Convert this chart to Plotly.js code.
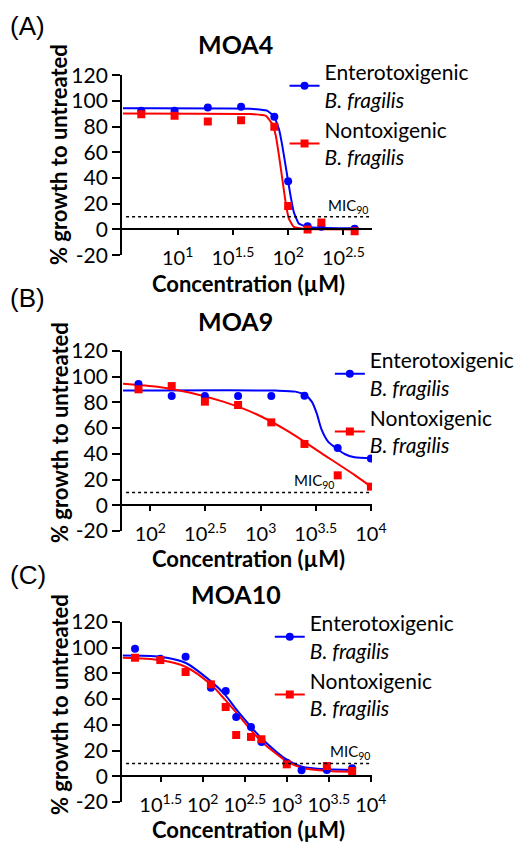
<!DOCTYPE html>
<html>
<head>
<meta charset="utf-8">
<script src="https://cdn.plot.ly/plotly-3.0.1.min.js"></script>
<style>html,body{margin:0;padding:0;background:#fff;}#chart{width:519px;height:844px;}</style>
</head>
<body>
<div id="chart"></div>
<script>
// ---------- DATA ----------
// Panel A: MOA4
const concA = [4.6875, 9.375, 18.75, 37.5, 75, 100, 150, 200, 400];
const etbfA = [92.3, 92.3, 94.8, 95.4, 87.6, 37.6, 2.6, 2.1, 0.5];
const ntbfA = [89.7, 88.4, 84.0, 85.0, 80.0, 18.3, 0.0, 5.4, -1.3];
const fitConcEtbfA = [3.2, 46, 65, 74.6, 82.6, 88.5, 94.8, 100, 105, 112.5, 124.5, 148, 215, 400];
const fitEtbfA = [94.3, 94.0, 92.3, 87.9, 78.1, 65.2, 49.7, 37.6, 26.5, 13.6, 4.6, 2.0, 1.2, 1.0];
const fitConcNtbfA = [3.2, 46, 63, 72.1, 77.3, 82.6, 88.5, 94.8, 101.4, 112.5, 138, 215, 400];
const fitNtbfA = [90.2, 89.8, 88.4, 82.0, 72.9, 57.5, 39.4, 21.3, 8.5, 2.0, 0.4, 0.1, 0.0];

// Panel B: MOA9
const concB = [78.125, 156.25, 312.5, 625, 1250, 2500, 5000, 10000];
const etbfB = [94.3, 85.0, 85.0, 85.0, 85.0, 85.2, 44.6, 36.3];
const ntbfB = [90.2, 92.7, 80.6, 78.0, 64.5, 47.7, 23.3, 14.5];
const fitConcEtbfB = [56.6, 1371, 2065, 2535, 2911, 3228, 3581, 4093, 4870, 5781, 7096, 10000];
const fitEtbfB = [89.2, 89.2, 88.4, 85.8, 80.6, 71.5, 58.6, 49.5, 44.3, 39.9, 37.3, 36.5];
const fitConcNtbfB = [56.6, 116.4, 230.7, 458, 908, 1799, 3581, 7096, 10000];
const fitNtbfB = [94.6, 92.2, 87.6, 80.6, 71.0, 57.3, 40.4, 23.6, 14.5];

// Panel C: MOA10
const concEtbfC = [15.625, 31.25, 62.5, 125, 187.5, 250, 375, 500, 1000, 1500, 3000, 6000];
const etbfC = [99.2, 91.5, 93.0, 68.9, 66.3, 46.1, 38.3, 26.7, 10.6, 4.7, 4.9, 6.2];
const concNtbfC = [15.625, 31.25, 62.5, 125, 187.5, 250, 375, 500, 1000, 3000, 6000];
const ntbfC = [92.2, 90.4, 81.1, 71.5, 53.9, 32.1, 30.6, 28.8, 9.3, 8.0, 4.1];
const fitConcC = [11.2, 31.1, 62.1, 124.2, 182.8, 250.6, 369, 492, 1012, 1517, 3112, 6012];
const fitEtbfC = [94.0, 93.0, 88.3, 74.0, 63.7, 52.0, 39.0, 30.0, 12.7, 7.5, 5.4, 4.9];
const fitNtbfC = [92.2, 90.4, 85.2, 71.5, 59.8, 49.5, 36.5, 27.5, 11.4, 6.7, 4.1, 3.6];

// MIC90 threshold
const mic90 = 10;

// Tick labels
const yTickVals = [-20, 0, 20, 40, 60, 80, 100, 120];
const yTickText = ['-20', '0', '20', '40', '60', '80', '100', '120'];
const xTickValsA = [10, 31.623, 100, 316.23];
const xTickTextA = ['10<sup>1</sup>', '10<sup>1.5</sup>', '10<sup>2</sup>', '10<sup>2.5</sup>'];
const xTickValsB = [100, 316.23, 1000, 3162.3, 10000];
const xTickTextB = ['10<sup>2</sup>', '10<sup>2.5</sup>', '10<sup>3</sup>', '10<sup>3.5</sup>', '10<sup>4</sup>'];
const xTickValsC = [31.623, 100, 316.23, 1000, 3162.3, 10000];
const xTickTextC = ['10<sup>1.5</sup>', '10<sup>2</sup>', '10<sup>2.5</sup>', '10<sup>3</sup>', '10<sup>3.5</sup>', '10<sup>4</sup>'];

const titles = ['MOA4', 'MOA9', 'MOA10'];
const panelLabels = ['(A)', '(B)', '(C)'];
const seriesNames = ['Enterotoxigenic<br><i>B. fragilis</i>', 'Nontoxigenic<br><i>B. fragilis</i>'];
const xTitle = 'Concentration (µM)';
const yTitle = '% growth to untreated';

// ---------- STYLE / LAYOUT ----------
const BLUE = '#0000FF', RED = '#FF0000';
const FONT = 'Lato, "Open Sans", sans-serif';
const H = 844, W = 519;
const yRange = [-20, 120];
function py(px) { return 1 - px / H; }
const xDom = [124 / W, 377.7 / W];
const panels = [
  {top: 75.2, bot: 255.2, xr: [0.497, 2.758], tv: xTickValsA, tt: xTickTextA, leg: {x: 289, y: 52}, micX: 0.993, sm: 0.3},
  {top: 351, bot: 531, xr: [1.744, 4.009], tv: xTickValsB, tt: xTickTextB, leg: {x: 335, y: 340}, micX: 0.858, sm: 0.7},
  {top: 622, bot: 802, xr: [1.04, 4.013], tv: xTickValsC, tt: xTickTextC, leg: {x: 274, y: 603}, micX: 1.0, sm: 0.8}
];
const titleY = [44, 321, 594];
const panelLabelY = [26, 298, 575];
const xTitleY = [283, 558, 829];
const yTitleY = [155, 433, 705];

const data = [];
const sets = [
  [concA, etbfA, concA, ntbfA, fitConcEtbfA, fitEtbfA, fitConcNtbfA, fitNtbfA],
  [concB, etbfB, concB, ntbfB, fitConcEtbfB, fitEtbfB, fitConcNtbfB, fitNtbfB],
  [concEtbfC, etbfC, concNtbfC, ntbfC, fitConcC, fitEtbfC, fitConcC, fitNtbfC]
];
sets.forEach((s, i) => {
  const xa = i === 0 ? 'x' : 'x' + (i + 1);
  const ya = i === 0 ? 'y' : 'y' + (i + 1);
  const lg = i === 0 ? 'legend' : 'legend' + (i + 1);
  const sm = panels[i].sm;
  data.push({x: s[4], y: s[5], xaxis: xa, yaxis: ya, mode: 'lines', line: {color: BLUE, width: 2, shape: 'spline', smoothing: sm}, showlegend: false, hoverinfo: 'skip'});
  data.push({x: s[6], y: s[7], xaxis: xa, yaxis: ya, mode: 'lines', line: {color: RED, width: 2, shape: 'spline', smoothing: sm}, showlegend: false, hoverinfo: 'skip'});
  data.push({x: s[0], y: s[1], xaxis: xa, yaxis: ya, mode: 'markers', marker: {color: BLUE, size: 8, symbol: 'circle'}, showlegend: false});
  data.push({x: s[2], y: s[3], xaxis: xa, yaxis: ya, mode: 'markers', marker: {color: RED, size: 8, symbol: 'square'}, showlegend: false});
  data.push({x: [null], y: [null], xaxis: xa, yaxis: ya, mode: 'lines+markers', name: seriesNames[0], legend: lg, line: {color: BLUE, width: 2}, marker: {color: BLUE, size: 8, symbol: 'circle'}});
  data.push({x: [null], y: [null], xaxis: xa, yaxis: ya, mode: 'lines+markers', name: seriesNames[1], legend: lg, line: {color: RED, width: 2}, marker: {color: RED, size: 8, symbol: 'square'}});
});

const layout = {
  width: W, height: H, autosize: false,
  margin: {l: 0, r: 0, t: 0, b: 0},
  paper_bgcolor: '#fff', plot_bgcolor: 'rgba(0,0,0,0)',
  font: {family: FONT, color: '#000'},
  showlegend: true,
  annotations: [], shapes: []
};

panels.forEach((p, i) => {
  const sfx = i === 0 ? '' : String(i + 1);
  const dom = [py(p.bot), py(p.top)];
  const zeroPos = dom[0] + (0 - yRange[0]) / (yRange[1] - yRange[0]) * (dom[1] - dom[0]);
  layout['xaxis' + sfx] = {
    type: 'log', range: p.xr, domain: xDom, anchor: 'free', position: zeroPos,
    tickmode: 'array', tickvals: p.tv, ticktext: p.tt,
    ticks: 'outside', ticklen: 5, tickwidth: 2, tickcolor: '#000',
    showline: true, linewidth: 2, linecolor: '#000', showgrid: false, zeroline: false,
    tickfont: {family: FONT, size: 20, color: '#000'}, ticklabelstandoff: 6,
    fixedrange: true
  };
  layout['yaxis' + sfx] = {
    range: yRange, domain: dom, anchor: 'x' + sfx,
    tickmode: 'array', tickvals: yTickVals, ticktext: yTickText,
    ticks: 'outside', ticklen: 8, tickwidth: 2, tickcolor: '#000',
    showline: true, linewidth: 2, linecolor: '#000', showgrid: false, zeroline: false,
    tickfont: {family: FONT, size: 21, color: '#000'}, fixedrange: true
  };
  layout['legend' + sfx] = {
    x: p.leg.x / W, y: py(p.leg.y), xanchor: 'left', yanchor: 'top',
    xref: 'paper', yref: 'paper',
    bgcolor: 'rgba(0,0,0,0)', borderwidth: 0,
    font: {family: FONT, size: 21, color: '#000'}, itemwidth: 30, tracegroupgap: 0
  };
  // MIC90 dotted line
  layout.shapes.push({
    type: 'line', xref: 'x' + sfx + ' domain', yref: 'y' + sfx,
    x0: 0.016, x1: 0.99, y0: mic90, y1: mic90,
    line: {color: '#000', width: 1.5, dash: 'dot'}
  });
  layout.annotations.push({
    xref: 'x' + sfx + ' domain', yref: 'y' + sfx, x: p.micX, y: mic90,
    xanchor: 'right', yanchor: 'bottom', yshift: -1, showarrow: false,
    text: 'MIC<sub>90</sub>', font: {family: FONT, size: 15, color: '#000'}
  });
  // Title
  layout.annotations.push({
    xref: 'paper', yref: 'paper', x: 239.5 / W, y: py(titleY[i]), xanchor: 'center', yanchor: 'middle',
    showarrow: false, text: '<b>' + titles[i] + '</b>', font: {family: FONT, size: 25, color: '#000'}
  });
  // Panel label
  layout.annotations.push({
    xref: 'paper', yref: 'paper', x: 8 / W, y: py(panelLabelY[i]), xanchor: 'left', yanchor: 'middle',
    showarrow: false, text: panelLabels[i], font: {family: 'Liberation Sans, Arial, sans-serif', size: 26, color: '#000'}
  });
  // X title
  layout.annotations.push({
    xref: 'paper', yref: 'paper', x: 252 / W, y: py(xTitleY[i]), xanchor: 'center', yanchor: 'middle',
    showarrow: false, text: '<b>' + xTitle + '</b>', font: {family: FONT, size: 22, color: '#000'}
  });
  // Y title
  layout.annotations.push({
    xref: 'paper', yref: 'paper', x: 60 / W, y: py(yTitleY[i]), xanchor: 'center', yanchor: 'middle',
    textangle: -90, showarrow: false, text: '<b>' + yTitle + '</b>', font: {family: FONT, size: 22, color: '#000'}
  });
});

Plotly.newPlot('chart', data, layout, {staticPlot: true, displayModeBar: false});
</script>
</body>
</html>
